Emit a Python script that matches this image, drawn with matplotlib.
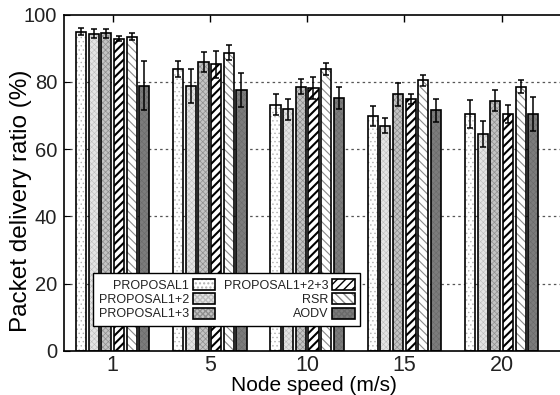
import matplotlib
matplotlib.use("Agg")
import matplotlib.pyplot as plt
import numpy as np
from matplotlib.patches import Patch
from matplotlib.legend_handler import HandlerTuple

speeds = ["1", "5", "10", "15", "20"]
series = ["PROPOSAL1", "PROPOSAL1+2", "PROPOSAL1+3", "PROPOSAL1+2+3", "RSR", "AODV"]
p1 = [94.9, 83.9, 73.2, 69.9, 70.5]
p1_err = [1.0, 2.3, 3.1, 3.0, 4.2]
p12 = [94.4, 78.8, 71.8, 67.0, 64.5]
p12_err = [1.3, 5.0, 3.0, 2.2, 3.8]
p13 = [94.5, 86.0, 78.6, 76.3, 74.4]
p13_err = [1.3, 3.0, 2.3, 3.5, 3.2]
p123 = [92.9, 85.3, 78.3, 74.8, 70.4]
p123_err = [0.7, 4.0, 3.3, 1.5, 2.7]
rsr = [93.5, 88.7, 83.9, 80.5, 78.6]
rsr_err = [1.0, 2.2, 1.7, 1.6, 2.0]
aodv = [78.8, 77.6, 75.2, 71.5, 70.5]
aodv_err = [7.3, 5.0, 3.4, 3.4, 5.1]

values = [p1, p12, p13, p123, rsr, aodv]
errors = [p1_err, p12_err, p13_err, p123_err, rsr_err, aodv_err]

# style: (facecolor, hatch, hatchcolor, hatch linewidth)
styles = [
    ("white", "....", "#b0b0b0", 0.5),
    ("#e4e4e4", "xxxxxx", "#bcbcbc", 0.4),
    ("#c4c4c4", "xxxxxx", "#8e8e8e", 0.5),
    ("white", "////", "black", 1.5),
    ("white", "\\\\\\\\", "#8a8a8a", 0.8),
    ("#7c7c7c", "xxxxxx", "#6a6a6a", 0.4),
]

plt.rcParams['font.family'] = ['Liberation Sans', 'DejaVu Sans']
plt.rcParams['text.color'] = '#222222'
plt.rcParams['xtick.labelcolor'] = '#222222'
plt.rcParams['ytick.labelcolor'] = '#222222'

fig = plt.figure(figsize=(5.6, 3.95), dpi=100)
W, H = 560, 395
ax_left, ax_bottom, ax_top = 64, 350.7, 14.7
unit = 97.25
xmin, xmax = -0.5, 4.65
ax = fig.add_axes([ax_left / W, (H - ax_bottom) / H,
                   (xmax - xmin) * unit / W, (ax_bottom - ax_top) / H])

x = np.arange(len(speeds))
pitch = 0.13
width = 0.104
handles = []
for i, (vals, errs, st) in enumerate(zip(values, errors, styles)):
    fc, hatch, hc, hlw = st
    pos = x + (i - 2.5) * pitch
    with plt.rc_context({'hatch.linewidth': hlw, 'hatch.color': hc}):
        b1 = ax.bar(pos, vals, width, color=fc, hatch=hatch, edgecolor=hc,
                    linewidth=0, zorder=2)
        for p in b1:
            try:
                p.set_hatch_linewidth(hlw)
            except Exception:
                pass
        h1 = Patch(facecolor=fc, hatch=hatch, edgecolor=hc, linewidth=0)
        try:
            h1.set_hatch_linewidth(hlw)
        except Exception:
            pass
    ax.bar(pos, vals, width, fill=False, edgecolor="black", linewidth=1.2, zorder=3)
    ax.errorbar(pos, vals, yerr=errs, fmt="none", ecolor="black", elinewidth=1.1,
                capsize=2.5, capthick=1.1, zorder=4)
    h2 = Patch(fill=False, edgecolor="black", linewidth=1.2)
    handles.append((h1, h2))

ax.set_xlim(xmin, xmax)
ax.set_ylim(0, 100)
ax.set_yticks([0, 20, 40, 60, 80, 100])
ax.set_xticks(x)
ax.set_xticklabels(speeds)
for yv in [20, 40, 60, 80]:
    ax.axhline(yv, color="#555555", linewidth=0.9, linestyle=(0, (2, 2.5)), zorder=1)

ax.tick_params(axis='y', direction='in', length=4, width=0.8, labelsize=14.5, pad=5,
               right=False)
ax.tick_params(axis='x', direction='in', length=5, width=1.0, labelsize=15.5, pad=3,
               top=True, bottom=False)
for s in ['left', 'bottom', 'top', 'right']:
    ax.spines[s].set_linewidth(1.2)
ax.spines['right'].set_visible(False)

ax.set_xlabel("Node speed (m/s)", fontsize=15, labelpad=0)
ax.set_ylabel("Packet delivery ratio (%)", fontsize=17.5)
ax.yaxis.set_label_coords(-0.064, 0.445)

leg = ax.legend(handles, series, ncol=2, markerfirst=False,
                handler_map={tuple: HandlerTuple(ndivide=1)},
                loc='lower left', bbox_to_anchor=(0.058, 0.0735), borderaxespad=0,
                fontsize=9, handlelength=1.8, handleheight=1.0, handletextpad=0.3,
                columnspacing=0.7, labelspacing=0.12, borderpad=0.45,
                fancybox=False, frameon=True, framealpha=1, edgecolor='black')
leg.get_frame().set_linewidth(1.0)
leg.set_zorder(5)

fig.savefig("out.png", dpi=100)
